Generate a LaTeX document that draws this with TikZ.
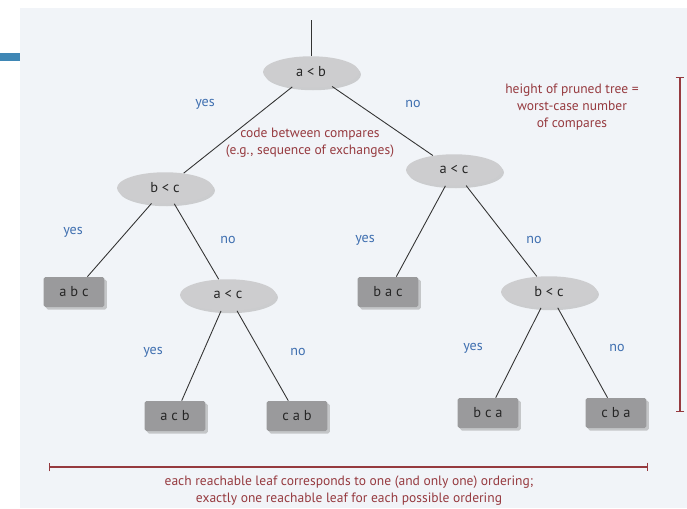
\documentclass[tikz,border=0pt]{standalone}
\usepackage{fontspec}
\setmainfont{PT Sans}
\usepackage{tikz}
\usetikzlibrary{shapes.geometric, shadows, arrows.meta}

\definecolor{panel}{HTML}{F1F4F8}
\definecolor{sidebar}{HTML}{3F87B5}
\definecolor{yesno}{HTML}{3F6FB0}
\definecolor{note}{HTML}{963A3F}
\definecolor{cmpfill}{HTML}{CDCDCF}
\definecolor{leaffill}{HTML}{9A9A9C}

\tikzset{
  compare/.style={ellipse, fill=cmpfill, minimum width=1.92cm, minimum height=0.63cm,
    inner sep=0pt, font=\fontsize{8.2}{9}\selectfont, text=black!85,
    drop shadow={shadow xshift=0.04cm, shadow yshift=-0.05cm, fill=black!35}},
  leaf/.style={rectangle, rounded corners=1pt, fill=leaffill, minimum width=1.22cm,
    minimum height=0.6cm, inner sep=0pt, font=\fontsize{8.2}{9}\selectfont, text=black!85,
    drop shadow={shadow xshift=0.05cm, shadow yshift=-0.05cm, fill=black!40}},
  answer/.style={text=yesno, font=\fontsize{8}{9}\selectfont},
  remark/.style={text=note, font=\fontsize{7.7}{9.6}\selectfont, align=center},
  branch/.style={black!80, line width=0.5pt}
}

\begin{document}
\begin{tikzpicture}[x=0.02cm, y=-0.02cm]
    \useasboundingbox (0, 0) rectangle (687, 508);
    \fill [panel] (20, 8) rectangle (687, 508);
    \fill [sidebar] (0, 53) rectangle (20, 61);

    % comparisons
    \node [compare] (ab) at (311, 72) {a < b};
    \node [compare] (bc1) at (165, 188) {b < c};
    \node [compare] (ac1) at (454, 170) {a < c};
    \node [compare] (ac2) at (228, 295) {a < c};
    \node [compare] (bc2) at (549, 292) {b < c};

    % leaves
    \node [leaf] (abc) at (74, 292) {a b c};
    \node [leaf] (bac) at (388, 292) {b a c};
    \node [leaf] (acb) at (175, 416) {a c b};
    \node [leaf] (cab) at (297, 416) {c a b};
    \node [leaf] (bca) at (488, 413) {b c a};
    \node [leaf] (cba) at (616, 413) {c b a};

    % branches
    \coordinate (entry) at (311, 20);
    \draw [branch] (entry) -- (ab);
    \draw [branch] (ab) -- (bc1);
    \draw [branch] (ab) -- (ac1);
    \draw [branch] (bc1) -- (abc);
    \draw [branch] (bc1) -- (ac2);
    \draw [branch] (ac1) -- (bac);
    \draw [branch] (ac1) -- (bc2);
    \draw [branch] (ac2) -- (acb);
    \draw [branch] (ac2) -- (cab);
    \draw [branch] (bc2) -- (bca);
    \draw [branch] (bc2) -- (cba);

    % yes / no labels
    \node [answer] (y1) at (205, 104) {yes};
    \node [answer] (n1) at (413, 104) {no};
    \node [answer] (y2) at (73, 232) {yes};
    \node [answer] (n2) at (228, 240) {no};
    \node [answer] (y3) at (365, 240) {yes};
    \node [answer] (n3) at (534, 240) {no};
    \node [answer] (y4) at (153, 352) {yes};
    \node [answer] (n4) at (298, 352) {no};
    \node [answer] (y5) at (473, 348) {yes};
    \node [answer] (n5) at (617, 348) {no};

    % notes
    \node [remark] (code) at (310, 143) {code between compares\\(e.g., sequence of exchanges)};
    \node [remark] (height) at (572, 107) {height of pruned tree =\\worst-case number\\of compares};
    \node [remark] (leaves) at (349, 491) {each reachable leaf corresponds to one (and only one) ordering;\\exactly one reachable leaf for each possible ordering};

    \coordinate (htop) at (680, 77);
    \coordinate (hbot) at (680, 412);
    \draw [note, line width=0.7pt, {Bar[width=5pt]}-{Bar[width=5pt]}] (htop) -- (hbot);
    \coordinate (wleft) at (49, 467);
    \coordinate (wright) at (648, 467);
    \draw [note, line width=0.7pt, {Bar[width=5pt]}-{Bar[width=5pt]}] (wleft) -- (wright);
\end{tikzpicture}
\end{document}
